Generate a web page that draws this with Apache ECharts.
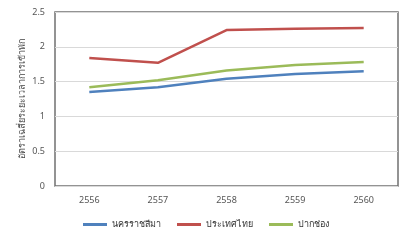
<!DOCTYPE html>
<html><head><meta charset="utf-8">
<script src="https://cdn.jsdelivr.net/npm/echarts@6/dist/echarts.min.js"></script>
<style>html,body{margin:0;padding:0;background:#fff}#c{width:412px;height:240px}</style>
</head><body><div id="c"></div>
<script>
const categories = ['2556','2557','2558','2559','2560'];
const korat = [1.35, 1.42, 1.54, 1.61, 1.65];
const thailand = [1.84, 1.77, 2.24, 2.26, 2.27];
const pakchong = [1.42, 1.52, 1.66, 1.74, 1.78];
const seriesNames = ['นครราชสีมา','ประเทศไทย','ปากช่อง'];
const colors = ['#4f81bd','#c0504d','#9bbb59'];
const font = '"Noto Sans", sans-serif';
const chart = echarts.init(document.getElementById('c'), null, {renderer:'canvas'});
chart.setOption({
  animation:false,
  textStyle:{fontFamily:font},
  grid:{left:55,right:14,top:12,bottom:54,show:true,borderColor:'#707070',borderWidth:1.5,backgroundColor:'transparent'},
  legend:{bottom:6,left:'center',itemWidth:24,itemHeight:3,itemGap:16,icon:'rect',
    textStyle:{fontSize:9,color:'#333',fontFamily:font},data:seriesNames},
  xAxis:{type:'category',data:categories,boundaryGap:true,
    axisLine:{show:false},axisTick:{show:false},
    axisLabel:{fontSize:9,color:'#555',margin:10,fontFamily:font}},
  yAxis:{type:'value',min:0,max:2.5,interval:0.5,
    name:'อัตราเฉลี่ยระยะเวลาการเข้าพัก',nameLocation:'middle',nameGap:28,nameRotate:90,
    nameMoveOverlap:false,
    nameTextStyle:{fontSize:9,color:'#444',fontFamily:font},
    axisLine:{show:false},axisTick:{show:false},
    axisLabel:{fontSize:9,color:'#555',margin:10,fontFamily:font},
    splitLine:{lineStyle:{color:'#d9d9d9',width:1}}},
  series:[
    {name:seriesNames[0],type:'line',data:korat,symbol:'none',lineStyle:{width:2.5,color:colors[0]},itemStyle:{color:colors[0]}},
    {name:seriesNames[1],type:'line',data:thailand,symbol:'none',lineStyle:{width:2.5,color:colors[1]},itemStyle:{color:colors[1]}},
    {name:seriesNames[2],type:'line',data:pakchong,symbol:'none',lineStyle:{width:2.5,color:colors[2]},itemStyle:{color:colors[2]}}
  ]
});
</script></body></html>
